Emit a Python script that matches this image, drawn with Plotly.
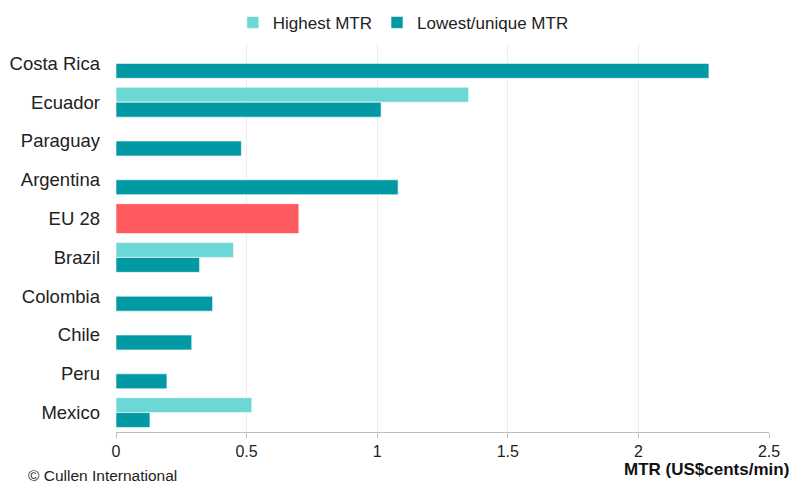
import plotly.graph_objects as go

countries = ["Costa Rica", "Ecuador", "Paraguay", "Argentina", "EU 28",
             "Brazil", "Colombia", "Chile", "Peru", "Mexico"]
# highest MTR (only where a range exists)
highest = [None, 1.35, None, None, None, 0.45, None, None, None, 0.52]
# lowest / unique MTR
lowest = [2.27, 1.015, 0.48, 1.08, None, 0.32, 0.37, 0.29, 0.195, 0.13]
eu_value = [None, None, None, None, 0.70, None, None, None, None, None]

w = 0.385
edge = dict(color="rgba(255,255,255,0.6)", width=1)

fig = go.Figure()
fig.add_trace(go.Bar(y=countries, x=highest, orientation="h", name="Highest MTR",
                     marker=dict(color="#6cd8d5", line=edge), offset=-w, width=w))
fig.add_trace(go.Bar(y=countries, x=lowest, orientation="h", name="Lowest/unique MTR",
                     marker=dict(color="#0099a4", line=edge), offset=0, width=w))
fig.add_trace(go.Bar(y=countries, x=eu_value, orientation="h", name="EU 28",
                     marker=dict(color="#ff5a60", line=edge), offset=-w, width=2 * w,
                     showlegend=False))

fig.update_layout(
    width=795, height=483,
    barmode="overlay",
    paper_bgcolor="white", plot_bgcolor="white",
    margin=dict(l=116, r=26, t=44, b=51, autoexpand=False),
    font=dict(family="Liberation Sans, Arial, sans-serif", size=16, color="#222"),
    legend=dict(orientation="h", x=0.44, xanchor="center", y=0.99, yanchor="top",
                yref="container", font=dict(size=17), itemwidth=30, traceorder="normal"),
    xaxis=dict(range=[0, 2.5], dtick=0.5, showgrid=True, gridcolor="#ececec",
               zeroline=False, showline=True, linecolor="#bdbdbd", ticks="outside",
               ticklen=5, tickcolor="#bdbdbd", tickfont=dict(size=16)),
    yaxis=dict(autorange="reversed", showgrid=False, ticks="", ticklabelstandoff=15,
               tickfont=dict(size=18.5)),
    annotations=[
        dict(text="<b>MTR (US$cents/min)</b>", xref="paper", yref="paper",
             x=1, xshift=22, xanchor="right", y=0, yshift=-26, yanchor="top",
             showarrow=False, font=dict(size=17, color="#111")),
        dict(text="© Cullen International", xref="paper", yref="paper",
             x=0, xshift=-90, xanchor="left", y=0, yshift=-33, yanchor="top",
             showarrow=False, font=dict(size=15.5, color="#222")),
    ],
)

fig.write_html("out.html", config={"displayModeBar": False},
               post_script="document.body.style.margin='0';")
